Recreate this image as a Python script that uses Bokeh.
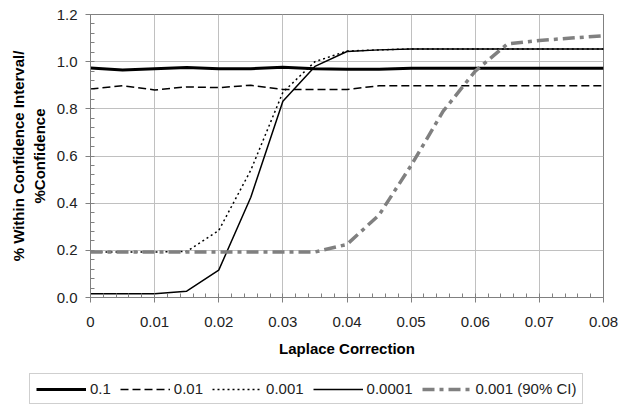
from bokeh.plotting import figure
from bokeh.layouts import column
from bokeh.models import (FixedTicker, PrintfTickFormatter, CustomJSTickFormatter,
                          Legend, LegendItem, Range1d)
from bokeh.embed import file_html
from bokeh.resources import INLINE

# ---- data ----
laplace = [0.0, 0.005, 0.01, 0.015, 0.02, 0.025, 0.03, 0.035, 0.04,
           0.045, 0.05, 0.055, 0.06, 0.065, 0.07, 0.075, 0.08]
s_0_1 = [0.973, 0.965, 0.970, 0.975, 0.970, 0.970, 0.976, 0.970, 0.968,
         0.968, 0.972, 0.972, 0.972, 0.972, 0.972, 0.972, 0.972]
s_0_01 = [0.884, 0.898, 0.880, 0.893, 0.890, 0.900, 0.882, 0.882, 0.882,
          0.898, 0.898, 0.898, 0.898, 0.898, 0.898, 0.898, 0.898]
s_0_001 = [0.193, 0.193, 0.193, 0.195, 0.284, 0.540, 0.870, 1.000, 1.045,
           1.050, 1.054, 1.054, 1.054, 1.054, 1.054, 1.054, 1.054]
s_0_0001 = [0.016, 0.016, 0.016, 0.027, 0.116, 0.425, 0.832, 0.980, 1.043,
            1.050, 1.054, 1.054, 1.054, 1.054, 1.054, 1.054, 1.054]
s_ci90 = [0.193, 0.193, 0.193, 0.193, 0.193, 0.193, 0.193, 0.193, 0.225,
          0.350, 0.560, 0.790, 0.960, 1.075, 1.090, 1.100, 1.110]

x_ticks = [0.0, 0.01, 0.02, 0.03, 0.04, 0.05, 0.06, 0.07, 0.08]
y_ticks = [0.0, 0.2, 0.4, 0.6, 0.8, 1.0, 1.2]
legend_labels = ["0.1", "0.01", "0.001", "0.0001", "0.001 (90% CI)"]

FONT = "Liberation Sans"

styles = [
    dict(line_color="black", line_width=3),
    dict(line_color="black", line_width=1.5, line_dash="8 4"),
    dict(line_color="black", line_width=1.5, line_dash="2 3"),
    dict(line_color="black", line_width=1.5),
    dict(line_color="#808080", line_width=3.5, line_dash="12 5 4 5"),
]
series = [s_0_1, s_0_01, s_0_001, s_0_0001, s_ci90]

p = figure(width=619, height=370, output_backend="svg",
           toolbar_location=None, x_range=Range1d(0, 0.08), y_range=Range1d(0, 1.2),
           min_border_left=90, min_border_right=16, min_border_top=14, min_border_bottom=73)
p.frame_align = False
p.background_fill_color = "white"
p.border_fill_color = "white"
p.outline_line_color = "#808080"
p.outline_line_width = 1

for ys, st in zip(series, styles):
    p.line(laplace, ys, **st)

minor_x = [i * 0.002 for i in range(41)]
minor_y = [i * 0.04 for i in range(31)]
p.xaxis.ticker = FixedTicker(ticks=x_ticks, minor_ticks=minor_x)
p.yaxis.ticker = FixedTicker(ticks=y_ticks, minor_ticks=minor_y)
p.xaxis.formatter = CustomJSTickFormatter(code="return tick === 0 ? '0' : tick.toFixed(2);")
p.yaxis.formatter = PrintfTickFormatter(format="%.1f")

for ax in (p.xaxis[0], p.yaxis[0]):
    ax.axis_line_color = "#808080"
    ax.major_tick_line_color = "#808080"
    ax.minor_tick_line_color = "#808080"
    ax.major_tick_in = 0
    ax.major_tick_out = 5
    ax.minor_tick_in = 4
    ax.minor_tick_out = 0
    ax.major_label_text_font = FONT
    ax.major_label_text_font_size = "15px"
    ax.major_label_text_color = "#222222"
    ax.axis_label_text_font = FONT
    ax.axis_label_text_font_size = "15px"
    ax.axis_label_text_font_style = "bold"
    ax.axis_label_text_color = "black"

p.xaxis.axis_label = "Laplace Correction"
p.yaxis.axis_label = "% Within Confidence Interval/\n%Confidence"
p.xaxis.major_label_standoff = 14
p.yaxis.major_label_standoff = 8
p.xaxis.axis_label_standoff = 10
p.yaxis.axis_label_standoff = 6

p.xgrid.grid_line_color = "#c0c0c0"
p.ygrid.grid_line_color = "#c0c0c0"
p.xgrid.grid_line_width = 1
p.ygrid.grid_line_width = 1

# ---- legend strip: a small figure whose sample lines lie outside its view ----
lg = figure(width=619, height=36, output_backend="svg", toolbar_location=None,
            x_range=Range1d(10, 11), y_range=Range1d(10, 11), min_border=0,
            min_border_left=0, min_border_right=0, min_border_top=0, min_border_bottom=0,
            x_axis_location=None, y_axis_location=None)
lg.frame_align = False
lg.grid.visible = False
lg.outline_line_color = None
lg.background_fill_color = "white"
lg.border_fill_color = "white"
samples = [lg.line(laplace, ys, **st) for ys, st in zip(series, styles)]

legend = Legend(items=[LegendItem(label=lab, renderers=[r])
                       for lab, r in zip(legend_labels, samples)],
                orientation="horizontal", location=(29, 2))
legend.label_text_font = FONT
legend.label_text_font_size = "15px"
legend.label_text_color = "#222222"
legend.glyph_width = 50
legend.label_standoff = 4
legend.spacing = 9
legend.padding = 6
legend.margin = 0
legend.border_line_color = "#a0a0a0"
legend.border_line_width = 1
legend.label_height = 14
legend.glyph_height = 14
lg.add_layout(legend, "center")

open("out.html", "w").write(file_html(column(p, lg), INLINE))
